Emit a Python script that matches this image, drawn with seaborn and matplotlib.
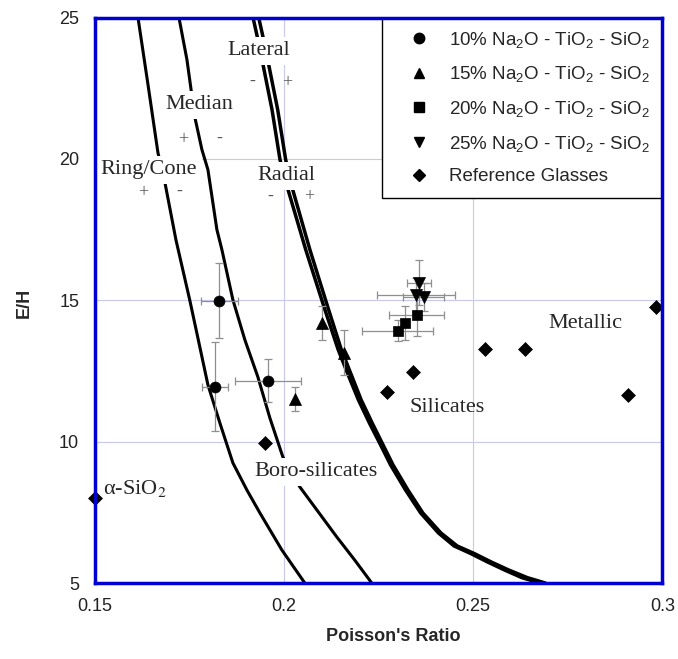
import matplotlib
matplotlib.use("Agg")
import matplotlib.pyplot as plt
from matplotlib.lines import Line2D
import seaborn as sns
import pandas as pd

sns.set_theme(style="white")
plt.rcParams['font.family'] = ['Liberation Sans', 'DejaVu Sans']
plt.rcParams['mathtext.fontset'] = 'custom'
plt.rcParams['mathtext.rm'] = 'Liberation Sans'
plt.rcParams['mathtext.it'] = 'Liberation Sans:italic'
plt.rcParams['mathtext.bf'] = 'Liberation Sans:bold'

# ---- data ----
# crack-type boundary curves (Poisson's ratio, E/H)
ring_x = [0.16148, 0.16412, 0.16675, 0.16860, 0.17150, 0.17520, 0.17757, 0.17995,
          0.18311, 0.18654, 0.19024, 0.19367, 0.19947, 0.20554]
ring_y = [25.0, 22.63, 20.22, 19.16, 17.14, 14.98, 13.50, 12.01,
          10.66, 9.25, 8.29, 7.48, 6.17, 5.0]

median_x = [0.17230, 0.17441, 0.17652, 0.17836, 0.17995, 0.18232, 0.18364, 0.18654,
            0.18971, 0.19314, 0.19631, 0.19974, 0.20422, 0.21398, 0.21873, 0.22322]
median_y = [25.0, 23.51, 21.46, 20.33, 19.62, 17.50, 16.79, 15.02,
            13.60, 12.29, 10.84, 9.46, 8.40, 6.63, 5.81, 5.0]

lateral_y = [25.0, 24.04, 22.98, 21.74, 19.97, 18.98, 16.79, 14.66, 13.25, 12.36, 11.48,
             10.66, 9.89, 9.18, 8.29, 7.48, 6.77, 6.31, 6.04, 5.74, 5.46, 5.19, 5.0]
lateral_x = [0.19186, 0.19345, 0.19503, 0.19688, 0.19899, 0.20096, 0.20578, 0.21086,
             0.21436, 0.21699, 0.21968, 0.22259, 0.22553, 0.22817, 0.23213, 0.23612,
             0.24083, 0.24497, 0.24940, 0.25386, 0.25829, 0.26286, 0.26761]
radial_y = lateral_y
radial_x = [0.19336, 0.19495, 0.19653, 0.19838, 0.20049, 0.20220, 0.20688, 0.21184,
            0.21520, 0.21783, 0.22042, 0.22333, 0.22619, 0.22883, 0.23277, 0.23670,
            0.24149, 0.24579, 0.25034, 0.25484, 0.25939, 0.26432, 0.26907]

# measured glasses
na10_x = [0.1829, 0.1818, 0.1958]
na10_y = [14.98, 11.94, 12.15]
na10_xerr = [0.0049, 0.0034, 0.0087]
na10_yerr = [1.33, 1.58, 0.76]

na15_x = [0.2029, 0.2100, 0.2158]
na15_y = [11.51, 14.20, 13.14]
na15_xerr = [0.0, 0.0, 0.0]
na15_yerr = [0.44, 0.60, 0.80]

na20_x = [0.2301, 0.2320, 0.2351]
na20_y = [13.92, 14.20, 14.49]
na20_xerr = [0.0094, 0.0, 0.0073]
na20_yerr = [0.37, 0.60, 0.74]

na25_x = [0.2356, 0.2348, 0.2370]
na25_y = [15.62, 15.19, 15.12]
na25_xerr = [0.0032, 0.0103, 0.0054]
na25_yerr = [0.80, 0.60, 0.50]

ref_x = [0.1500, 0.1950, 0.2272, 0.2340, 0.2530, 0.2638, 0.2910, 0.2982]
ref_y = [8.01, 9.96, 11.76, 12.47, 13.28, 13.28, 11.65, 14.77]

series = [
    ("10% Na$_2$O - TiO$_2$ - SiO$_2$", "o", 62, na10_x, na10_y, na10_xerr, na10_yerr),
    ("15% Na$_2$O - TiO$_2$ - SiO$_2$", "^", 75, na15_x, na15_y, na15_xerr, na15_yerr),
    ("20% Na$_2$O - TiO$_2$ - SiO$_2$", "s", 62, na20_x, na20_y, na20_xerr, na20_yerr),
    ("25% Na$_2$O - TiO$_2$ - SiO$_2$", "v", 75, na25_x, na25_y, na25_xerr, na25_yerr),
]

fig, ax = plt.subplots(figsize=(6.78, 6.59), dpi=100)
fig.subplots_adjust(left=0.1394, right=0.9771, bottom=0.1153, top=0.9734)

# boundary curves
for cx, cy in [(ring_x, ring_y), (median_x, median_y)]:
    sns.lineplot(x=cx, y=cy, sort=False, estimator=None, color="black", lw=2.2, ax=ax, zorder=2)
for cx, cy in [(lateral_x, lateral_y), (radial_x, radial_y)]:
    sns.lineplot(x=cx, y=cy, sort=False, estimator=None, color="black", lw=2.5, ax=ax, zorder=2)

# points with error bars
handles = []
for label, mk, size, sx, sy, sxe, sye in series:
    ax.errorbar(sx, sy, xerr=sxe, yerr=sye, fmt="none", ecolor="#8f8f8f",
                elinewidth=0.9, capsize=3, capthick=0.9, zorder=3)
    df = pd.DataFrame({"nu": sx, "eh": sy})
    sns.scatterplot(data=df, x="nu", y="eh", marker=mk, s=size, color="black",
                    edgecolor="black", linewidth=0.5, ax=ax, zorder=4, clip_on=False)
    handles.append(Line2D([], [], marker=mk, color="black", ls="none", ms=7.5, label=label))

ref_df = pd.DataFrame({"nu": ref_x, "eh": ref_y})
sns.scatterplot(data=ref_df, x="nu", y="eh", marker="D", s=50, color="black",
                edgecolor="black", linewidth=0.5, ax=ax, zorder=4, clip_on=False)
handles.append(Line2D([], [], marker="D", color="black", ls="none", ms=6.5, label="Reference Glasses"))

# region labels
box = dict(boxstyle="square,pad=0.2", facecolor="white", edgecolor="none")
serif = "Liberation Serif"
for txt, x, y in [("Ring/Cone", 0.1644, 19.62), ("Median", 0.1776, 21.92),
                  ("Lateral", 0.1934, 23.83), ("Radial", 0.2008, 19.41),
                  ("Boro-silicates", 0.2084, 8.93)]:
    ax.text(x, y, txt, family=serif, fontsize=16, ha="center", va="center", bbox=box, zorder=3.5)
for txt, x, y in [("Silicates", 0.2430, 11.19), ("Metallic", 0.2797, 14.17)]:
    ax.text(x, y, txt, family=serif, fontsize=16, ha="center", va="center", zorder=3.5)
ax.text(0.1522, 8.36, "α-SiO$_2$", family=serif, math_fontfamily="stix", fontsize=16,
        ha="left", va="center", zorder=3.5)

for txt, x, y in [("-", 0.1918, 22.73), ("+", 0.2008, 22.70),
                  ("+", 0.1734, 20.68), ("-", 0.1829, 20.72),
                  ("+", 0.1628, 18.81), ("-", 0.1723, 18.84),
                  ("-", 0.1963, 18.66), ("+", 0.2066, 18.66)]:
    ax.text(x, y, txt, family=serif, fontsize=13, color="#555555", ha="center", va="center", zorder=3.5)

# axes styling
ax.set_xlim(0.15, 0.3)
ax.set_ylim(5, 25)
ax.set_xticks([0.15, 0.2, 0.25, 0.3])
ax.set_xticklabels(["0.15", "0.2", "0.25", "0.3"])
ax.set_yticks([5, 10, 15, 20, 25])
ax.tick_params(axis="both", length=0, labelsize=13, colors="#222222")
ax.tick_params(axis="x", pad=11)
ax.tick_params(axis="y", pad=11)
ax.grid(True, color="#c8c8f0", lw=0.8)
ax.set_axisbelow(True)
for sp in ax.spines.values():
    sp.set_color("#0000d0")
    sp.set_linewidth(2.5)
    sp.set_zorder(6)

ax.set_xlabel("Poisson's Ratio", fontsize=13, fontweight="bold")
ax.set_ylabel("E/H", fontsize=13, fontweight="bold")
ax.xaxis.set_label_coords(0.5255, -0.079)
ax.yaxis.set_label_coords(-0.108, 0.495)

leg = ax.legend(handles=handles, loc="upper right", bbox_to_anchor=(1, 1), borderaxespad=0,
                fontsize=13.5, frameon=True, fancybox=False, framealpha=1, edgecolor="black",
                handlelength=2.67, handletextpad=0.3, labelspacing=0.78, borderpad=0.65)
leg.get_frame().set_linewidth(1.0)
leg.set_zorder(5)

fig.savefig("out.png", dpi=100, facecolor="white")
